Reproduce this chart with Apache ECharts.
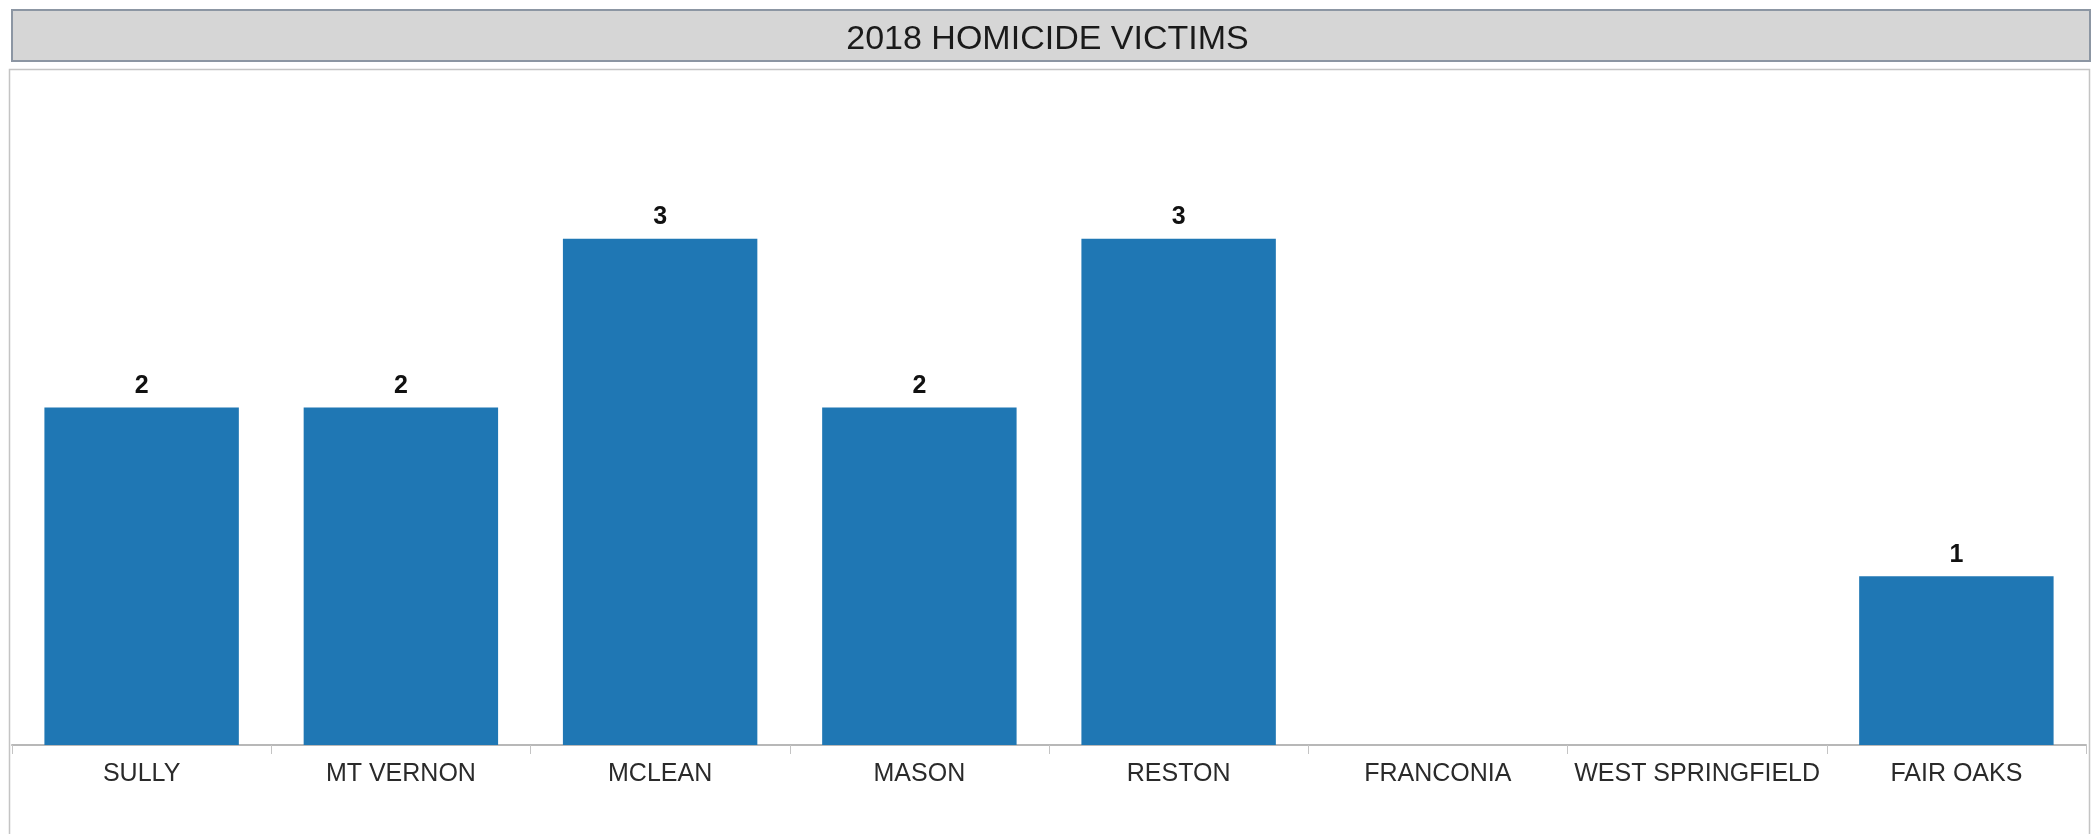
<!DOCTYPE html>
<html>
<head>
<meta charset="utf-8">
<script src="https://cdn.jsdelivr.net/npm/echarts@6/dist/echarts.min.js"></script>
<style>
html,body{margin:0;padding:0;background:#fff;}
#chart{width:2095px;height:834px;}
</style>
</head>
<body>
<div id="chart"></div>
<script>
const titleText = '2018 HOMICIDE VICTIMS';
const categories = ['SULLY', 'MT VERNON', 'MCLEAN', 'MASON', 'RESTON', 'FRANCONIA', 'WEST SPRINGFIELD', 'FAIR OAKS'];
const victims = [2, 2, 3, 2, 3, 0, 0, 1];

const chart = echarts.init(document.getElementById('chart'), null, {renderer: 'canvas'});
chart.setOption({
  backgroundColor: '#ffffff',
  animation: false,
  textStyle: {fontFamily: '"Liberation Sans", Arial, sans-serif'},
  graphic: [
    {type: 'rect', z: 0, shape: {x: 12, y: 10, width: 2078, height: 51},
     style: {fill: '#d6d6d6', stroke: '#8c96a3', lineWidth: 2}},
    {type: 'rect', z: 0, shape: {x: 9.5, y: 69.5, width: 2080, height: 800},
     style: {fill: 'none', stroke: '#c4c4c4', lineWidth: 1.5}}
  ],
  title: {
    text: titleText,
    left: 'center',
    top: 18,
    textStyle: {fontSize: 34, fontWeight: 'normal', color: '#1a1a1a', fontFamily: '"Liberation Sans", Arial, sans-serif'}
  },
  grid: {left: 12, right: 9, top: 70, bottom: 89, containLabel: false},
  xAxis: {
    type: 'category',
    data: categories,
    axisLine: {show: true, lineStyle: {color: '#b8b8b8', width: 2}},
    axisTick: {show: true, alignWithLabel: false, length: 9, lineStyle: {color: '#c4c4c4', width: 1}},
    axisLabel: {fontSize: 25, color: '#2a2a2a', margin: 17, interval: 0, fontFamily: '"Liberation Sans", Arial, sans-serif'},
    splitLine: {show: false}
  },
  yAxis: {
    type: 'value',
    min: 0, max: 4, interval: 1,
    show: false
  },
  series: [{
    type: 'bar',
    data: victims,
    barCategoryGap: '25%',
    itemStyle: {color: '#1f77b4'},
    label: {
      show: true,
      position: 'top',
      distance: 9,
      fontSize: 25,
      fontWeight: 'bold',
      color: '#111111',
      formatter: p => (p.value ? String(p.value) : '')
    }
  }]
});
</script>
</body>
</html>
